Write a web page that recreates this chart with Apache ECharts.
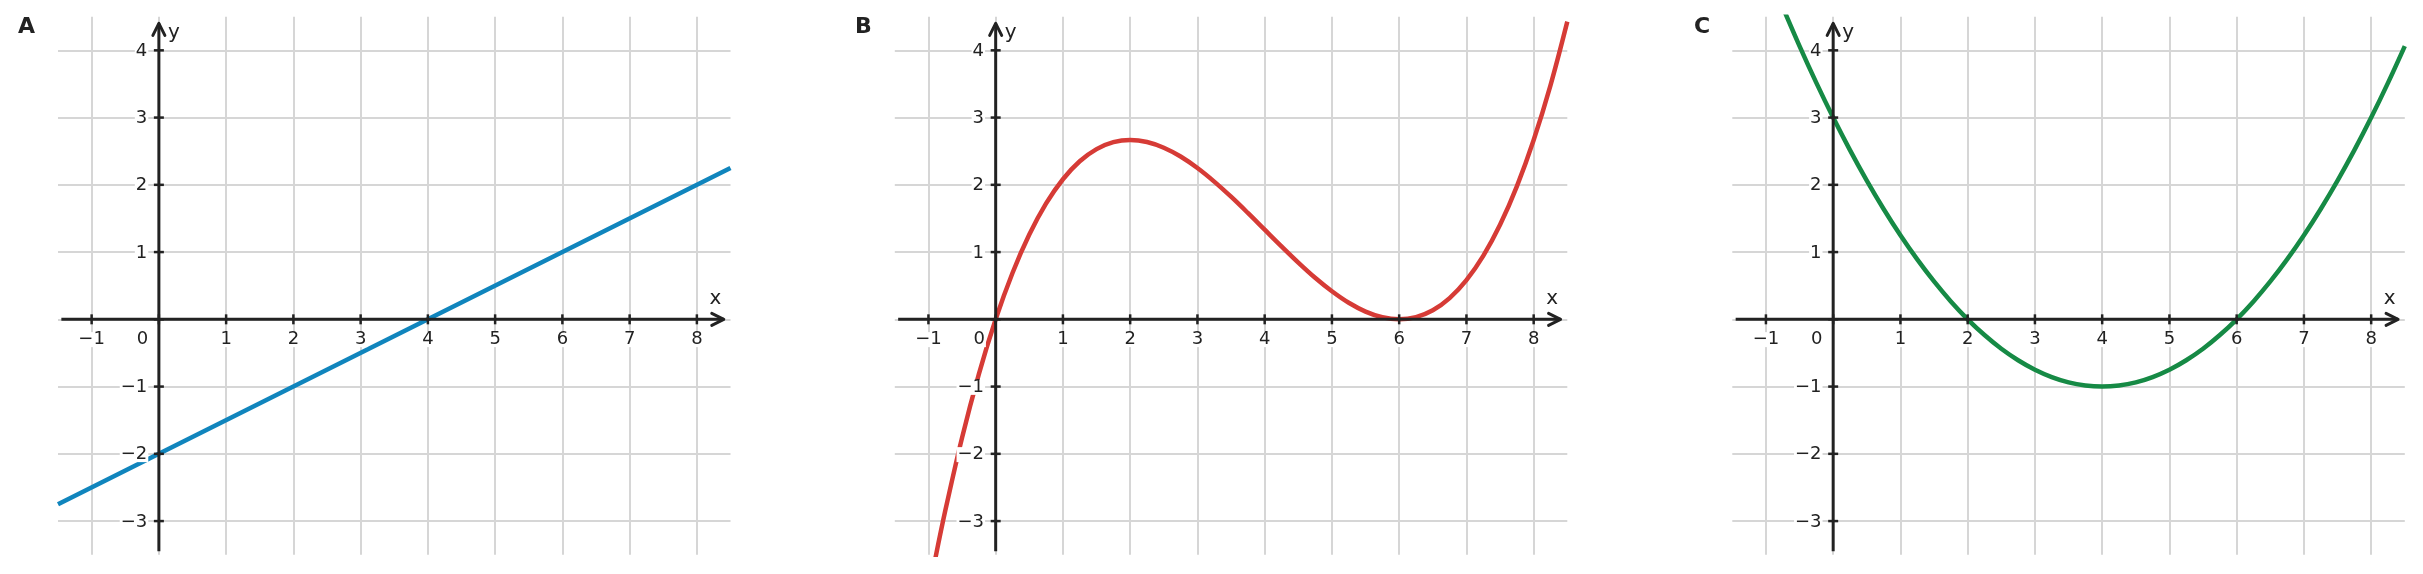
<!DOCTYPE html>
<html><head><meta charset="utf-8">
<script src="https://cdn.jsdelivr.net/npm/echarts@6/dist/echarts.min.js"></script>
<style>html,body{margin:0;padding:0;background:#fff}#c{width:2423px;height:574px}</style>
</head><body><div id="c"></div>
<script>
// ---- data ----
const panelLetters = ['A', 'B', 'C'];
const xTicks = [-1, 0, 1, 2, 3, 4, 5, 6, 7, 8];
const xTickLabels = ['−1', '', '1', '2', '3', '4', '5', '6', '7', '8'];
const yTicks = [-3, -2, -1, 0, 1, 2, 3, 4];
const yTickLabels = ['−3', '−2', '−1', '', '1', '2', '3', '4'];
const originLabel = '0';
const axisNames = ['x', 'y'];

const lineA = [[-1.5, -2.75], [0, -2], [4, 0], [8.5, 2.25]];
const cubicB = [
  [-0.9, -3.571], [-0.75, -2.848], [-0.5, -1.760], [-0.25, -0.814], [0, 0],
  [0.25, 0.689], [0.5, 1.260], [0.75, 1.723], [1, 2.083], [1.25, 2.350],
  [1.5, 2.531], [1.75, 2.634], [2, 2.667], [2.25, 2.637], [2.5, 2.552],
  [2.75, 2.421], [3, 2.250], [3.25, 2.048], [3.5, 1.823], [3.75, 1.582],
  [4, 1.333], [4.25, 1.085], [4.5, 0.844], [4.75, 0.618], [5, 0.417],
  [5.25, 0.246], [5.5, 0.115], [5.75, 0.030], [6, 0], [6.25, 0.033],
  [6.5, 0.135], [6.75, 0.316], [7, 0.583], [7.25, 0.944], [7.5, 1.406],
  [7.75, 1.978], [8, 2.667], [8.25, 3.480], [8.5, 4.427]
];
const parabolaC = [
  [-0.75, 4.641], [-0.5, 4.063], [-0.25, 3.516], [0, 3], [0.25, 2.516],
  [0.5, 2.063], [0.75, 1.641], [1, 1.25], [1.25, 0.891], [1.5, 0.563],
  [1.75, 0.266], [2, 0], [2.25, -0.234], [2.5, -0.438], [2.75, -0.609],
  [3, -0.75], [3.25, -0.859], [3.5, -0.938], [3.75, -0.984], [4, -1],
  [4.25, -0.984], [4.5, -0.938], [4.75, -0.859], [5, -0.75], [5.25, -0.609],
  [5.5, -0.438], [5.75, -0.234], [6, 0], [6.25, 0.266], [6.5, 0.563],
  [6.75, 0.891], [7, 1.25], [7.25, 1.641], [7.5, 2.063], [7.75, 2.516],
  [8, 3], [8.25, 3.516], [8.5, 4.063]
];
const curves = [lineA, cubicB, parabolaC];
const curveColors = ['#1085bd', '#d63b36', '#168a45'];
const curveSmooth = [false, 0.35, 0.35];

// ---- layout / style ----
const xRange = [-1.5, 8.5];
const yRange = [-3.5, 4.5];
const xAxisExtent = [-1.45, 8.4];
const yAxisExtent = [-3.45, 4.4];
const gridLefts = [58, 894.8, 1732.3];
const gridTop = 16.7, gridW = 672.5, gridH = 538;
const letterLefts = [18, 855, 1694];
const INK = '#222222';
const FONT = 'DejaVu Sans';
const arrowRight = 'path://M0 0 L12 6 L0 12';
const arrowUp = 'path://M0 12 L6 0 L12 12';
const mask = { backgroundColor: '#fff', padding: [0, 1], lineHeight: 15 };
const txt = { fontFamily: FONT, color: INK, opacity: 1, textBorderWidth: 0 };

const grids = [], xAxes = [], yAxes = [], series = [], titles = [];
for (let i = 0; i < 3; i++) {
  grids.push({ left: gridLefts[i], top: gridTop, width: gridW, height: gridH });
  xAxes.push({ type: 'value', gridIndex: i, min: xRange[0], max: xRange[1], show: false });
  yAxes.push({ type: 'value', gridIndex: i, min: yRange[0], max: yRange[1], show: false });
  titles.push({
    text: panelLetters[i], left: letterLefts[i], top: 16, padding: 0,
    textStyle: { fontFamily: FONT, fontSize: 22, fontWeight: 'bold', color: INK }
  });
  const ax = { xAxisIndex: i, yAxisIndex: i, silent: true, animation: false };
  // grid lines
  series.push(Object.assign({
    type: 'line', data: [[0, 0]], symbol: 'none', lineStyle: { width: 0 }, z: 1,
    markLine: {
      z: 1, silent: true, animation: false, symbol: ['none', 'none'], label: { show: false },
      lineStyle: { color: '#d6d6d6', width: 2, type: 'solid', opacity: 1 },
      emphasis: { disabled: true },
      data: xTicks.map(v => ({ xAxis: v })).concat(yTicks.map(v => ({ yAxis: v })))
    }
  }, ax));
  // curve
  series.push(Object.assign({
    type: 'line', data: curves[i], smooth: curveSmooth[i], showSymbol: false, symbol: 'none',
    clip: true, z: 2, lineStyle: { color: curveColors[i], width: 4.5, opacity: 1 }
  }, ax));
  // x axis line with arrow
  const arrowStyle = { color: 'rgba(0,0,0,0)', borderColor: INK, borderWidth: 3, borderJoin: 'round', borderCap: 'round', opacity: 1 };
  series.push(Object.assign({
    type: 'line', z: 3, showSymbol: true, symbol: arrowRight, symbolSize: [12, 12],
    lineStyle: { color: INK, width: 3, opacity: 1 }, itemStyle: arrowStyle,
    data: [
      { value: [xAxisExtent[0], 0], symbol: 'none' },
      { value: [xAxisExtent[1], 0], symbolOffset: [-6, 0] }
    ]
  }, ax));
  // y axis line with arrow
  series.push(Object.assign({
    type: 'line', z: 3, showSymbol: true, symbol: arrowUp, symbolSize: [12, 12],
    lineStyle: { color: INK, width: 3, opacity: 1 }, itemStyle: arrowStyle,
    data: [
      { value: [0, yAxisExtent[0]], symbol: 'none' },
      { value: [0, yAxisExtent[1]], symbolOffset: [0, 6] }
    ]
  }, ax));
  // x ticks + labels
  series.push(Object.assign({
    type: 'scatter', z: 4, symbol: 'rect', symbolSize: [2.5, 10], itemStyle: { color: INK, opacity: 1 },
    data: xTicks.map((v, k) => ({ value: [v, 0], label: { formatter: xTickLabels[k], show: xTickLabels[k] !== '' } })),
    label: Object.assign({ show: true, position: 'inside', offset: [0, 20.3], fontSize: 18 }, txt, mask)
  }, ax));
  // y ticks + labels
  series.push(Object.assign({
    type: 'scatter', z: 4, symbol: 'rect', symbolSize: [10, 2.5], itemStyle: { color: INK, opacity: 1 },
    data: yTicks.map((v, k) => ({ value: [0, v], label: { formatter: yTickLabels[k], show: yTickLabels[k] !== '' } })),
    label: Object.assign({ show: true, position: 'inside', align: 'right', verticalAlign: 'middle', offset: [-10.6, 0.8], fontSize: 18 }, txt, mask)
  }, ax));
  // origin label and axis names
  series.push(Object.assign({
    type: 'scatter', z: 5, symbolSize: 1, itemStyle: { color: 'rgba(0,0,0,0)', opacity: 1 },
    label: Object.assign({ show: true, position: 'inside' }, txt),
    data: [
      { value: [0, 0], label: Object.assign({ formatter: originLabel, fontSize: 18, offset: [-16.5, 20.3] }, mask) },
      { value: [xAxisExtent[1], 0], label: { formatter: axisNames[0], fontSize: 20, offset: [-8.3, -20.3] } },
      { value: [0, yAxisExtent[1]], label: { formatter: axisNames[1], fontSize: 20, offset: [15, 9.2] } }
    ]
  }, ax));
}

const chart = echarts.init(document.getElementById('c'), null, { renderer: 'canvas' });
chart.setOption({
  animation: false,
  backgroundColor: '#fff',
  title: titles,
  grid: grids,
  xAxis: xAxes,
  yAxis: yAxes,
  series: series
});
</script>
</body></html>
